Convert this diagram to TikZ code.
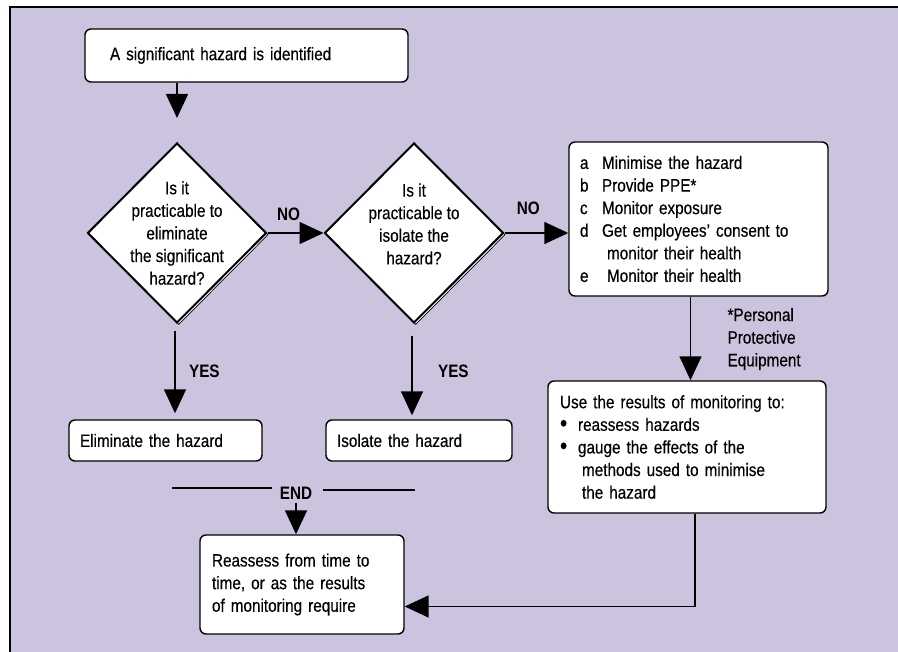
\documentclass[tikz,border=0pt]{standalone}
\usepackage{fontspec}
\setmainfont{Liberation Sans}[FakeStretch=0.85, UprightFeatures={FakeBold=0.3}]
\usetikzlibrary{shapes.geometric}
\usetikzlibrary{arrows.meta}
\usetikzlibrary{shadows}
\usetikzlibrary{positioning}
\definecolor{panel}{RGB}{204,196,222}
\newcommand{\bigdot}{\raisebox{-0.5pt}{\scalebox{1.35}{•}}}
\tikzset{every node/.style={ % Same text size everywhere
      font=\fontsize{18}{22.6}\selectfont},
      box/.style={ % White boxes with rounded corners
      draw, fill=white,
      line width=1.4pt,
      rounded corners=6pt,
      align=left, inner ysep=0pt},
      decision/.style={ % Question diamonds, with a thin second edge
      diamond, draw, fill=white,
      line width=2pt, inner sep=0pt,
      minimum width=179pt, minimum height=180pt,
      copy shadow={shadow xshift=1.8pt, shadow yshift=-1.8pt, draw=black, fill=white, line width=0.7pt}},
      answer/.style={ % NO, YES and END
      font=\fontsize{18}{22.6}\selectfont\bfseries},
      flow/.style={ % Connectors with big filled heads
      -{Triangle[width=22pt,length=24pt]},
      line width=1.5pt}}

\begin{document}
\begin{tikzpicture}[x=1pt, y=-1pt]
      \useasboundingbox (0,0) rectangle (898,652);
      \fill[panel] (10,7) rectangle (898,652);
      \draw[line width=2.2pt] (10,652) -- (10,7) -- (898,7);

      \node[box, text width=273pt, inner xsep=25pt, minimum height=53pt] (start) at (246.5,55.5) {A significant hazard is identified};
      \node[decision] (elim) at (177,233) {};
      \node[align=center] (elimq) at (elim) {Is it\\practicable to\\eliminate\\the significant\\hazard?};
      \node[decision] (isol) at (414,233) {};
      \node[align=center, yshift=9pt] (isolq) at (isol) {Is it\\practicable to\\isolate the\\hazard?};
      \node[box, text width=237pt, inner xsep=11pt, minimum height=154pt] (steps) at (698.5,219) {%
            \makebox[22pt][l]{a}Minimise the hazard\\
            \makebox[22pt][l]{b}Provide PPE*\\
            \makebox[22pt][l]{c}Monitor exposure\\
            \makebox[22pt][l]{d}Get employees’ consent to\\
            \hspace*{27pt}monitor their health\\
            \makebox[27pt][l]{e}Monitor their health};
      \node[align=left, anchor=west] (ppe) at (724,339) {*Personal\\Protective\\Equipment};
      \node[box, text width=254pt, inner xsep=12pt, minimum height=132pt] (monitor) at (687,447) {%
            Use the results of monitoring to:\\
            \makebox[18pt][l]{\bigdot}reassess hazards\\
            \makebox[18pt][l]{\bigdot}gauge the effects of the\\
            \hspace*{22pt}methods used to minimise\\
            \hspace*{22pt}the hazard};
      \node[box, text width=171pt, inner xsep=11pt, minimum height=41pt] (elimbox) at (165.5,440.5) {Eliminate the hazard};
      \node[box, text width=164pt, inner xsep=11pt, minimum height=41pt] (isolbox) at (419,440.5) {Isolate the hazard};
      \node[answer] (end) at (296,493) {END};
      \node[box, text width=180pt, inner xsep=12pt, minimum height=99pt] (reassess) at (302,584.5) {Reassess from time to\\time, or as the results\\of monitoring require};

      \draw[flow] (start.south -| elim.north) -- ([yshift=24pt]elim.north);
      \draw[flow] (elim.east) -- node[answer, above=8pt, xshift=-7pt] {NO} (isol.west);
      \draw[flow] (isol.east) -- node[answer, above=14pt, xshift=-8pt] {NO} (isol.east -| steps.west);
      \draw[flow] ([xshift=-8pt]steps.south) -- ([xshift=-8pt]steps.south |- monitor.north);
      \draw[flow, shorten <=7pt, shorten >=6pt] ([xshift=-2pt]elim.south) -- node[answer, right=10pt] {YES} ([xshift=-2pt]elim.south |- elimbox.north);
      \draw[flow, shorten <=12pt, shorten >=4pt] ([xshift=-2pt]isol.south) -- node[answer, right=22pt] {YES} ([xshift=-2pt]isol.south |- isolbox.north);
      \draw[line width=1.4pt] ([xshift=-4pt, yshift=5pt]end.west) -- ++(-100,0);
      \draw[line width=1.4pt] ([xshift=7pt, yshift=3pt]end.east) -- ++(92,0);
      \draw[flow] (end.south) -- (end.south |- reassess.north);
      \draw[flow] ([xshift=8pt]monitor.south) |- ([yshift=-22pt]reassess.east);
\end{tikzpicture}
\end{document}
